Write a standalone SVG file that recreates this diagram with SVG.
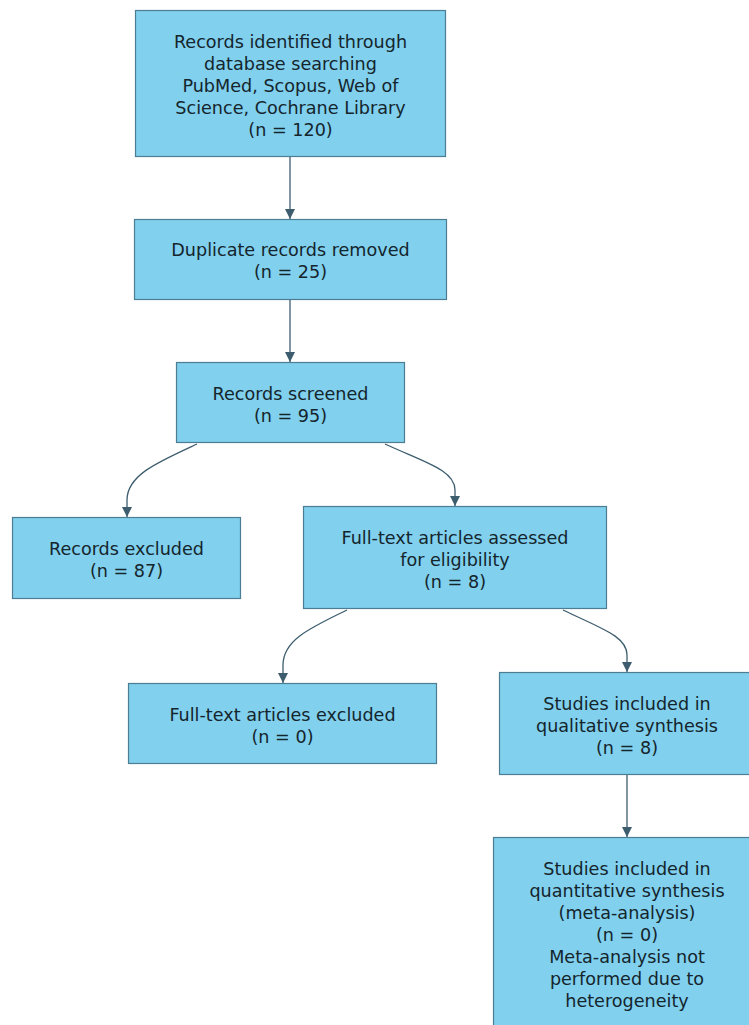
<svg xmlns="http://www.w3.org/2000/svg" width="749" height="1025" viewBox="0 0 749 1025">
<defs>
<style>
.box{fill:#80d0ee;stroke:#4d7d93;stroke-width:1.2}
.t{font-family:"DejaVu Sans",sans-serif;font-size:17.6px;fill:#15252c;text-anchor:middle}
.c{fill:none;stroke:#3d5d6e;stroke-width:1.3}
</style>
<marker id="ah" viewBox="0 0 10 10" refX="10" refY="5" markerWidth="10" markerHeight="10" markerUnits="userSpaceOnUse" orient="auto">
<path d="M0,0 L10,5 L0,10 z" fill="#3d5d6e"/>
</marker>
</defs>
<rect width="749" height="1025" fill="#ffffff"/>
<g id="connectors">
<path class="c" d="M290,157 L290,219" marker-end="url(#ah)"/>
<path class="c" d="M290,300 L290,362" marker-end="url(#ah)"/>
<path class="c" d="M197,444 C158,462 127,475 127,500 L127,517" marker-end="url(#ah)"/>
<path class="c" d="M385,444 C424,462 455,470 455,490 L455,506" marker-end="url(#ah)"/>
<path class="c" d="M347,610 C310,628 283,640 283,665 L283,683" marker-end="url(#ah)"/>
<path class="c" d="M563,610 C600,628 627,636 627,655 L627,672" marker-end="url(#ah)"/>
<path class="c" d="M627,775 L627,837" marker-end="url(#ah)"/>
</g>
<g id="n1">
<rect class="box" x="135.5" y="10.5" width="310" height="146"/>
<text class="t" x="290.5" y="48">Records identified through</text>
<text class="t" x="290.5" y="70">database searching</text>
<text class="t" x="290.5" y="92">PubMed, Scopus, Web of</text>
<text class="t" x="290.5" y="114">Science, Cochrane Library</text>
<text class="t" x="290.5" y="136">(n = 120)</text>
</g>
<g id="n2">
<rect class="box" x="134.5" y="219.5" width="312" height="80"/>
<text class="t" x="290.5" y="256">Duplicate records removed</text>
<text class="t" x="290.5" y="278">(n = 25)</text>
</g>
<g id="n3">
<rect class="box" x="176.5" y="362.5" width="228" height="80"/>
<text class="t" x="290.5" y="400">Records screened</text>
<text class="t" x="290.5" y="422">(n = 95)</text>
</g>
<g id="n4">
<rect class="box" x="12.5" y="517.5" width="228" height="81"/>
<text class="t" x="126.5" y="555">Records excluded</text>
<text class="t" x="126.5" y="577">(n = 87)</text>
</g>
<g id="n5">
<rect class="box" x="303.5" y="506.5" width="303" height="102"/>
<text class="t" x="455" y="544">Full-text articles assessed</text>
<text class="t" x="455" y="566">for eligibility</text>
<text class="t" x="455" y="588">(n = 8)</text>
</g>
<g id="n6">
<rect class="box" x="128.5" y="683.5" width="308" height="80"/>
<text class="t" x="282.5" y="721">Full-text articles excluded</text>
<text class="t" x="282.5" y="743">(n = 0)</text>
</g>
<g id="n7">
<rect class="box" x="499.5" y="672.5" width="252" height="102"/>
<text class="t" x="627" y="710">Studies included in</text>
<text class="t" x="627" y="732">qualitative synthesis</text>
<text class="t" x="627" y="754">(n = 8)</text>
</g>
<g id="n8">
<rect class="box" x="493.5" y="837.5" width="260" height="200"/>
<text class="t" x="627" y="875">Studies included in</text>
<text class="t" x="627" y="897">quantitative synthesis</text>
<text class="t" x="627" y="919">(meta-analysis)</text>
<text class="t" x="627" y="941">(n = 0)</text>
<text class="t" x="627" y="963">Meta-analysis not</text>
<text class="t" x="627" y="985">performed due to</text>
<text class="t" x="627" y="1007">heterogeneity</text>
</g>
</svg>
